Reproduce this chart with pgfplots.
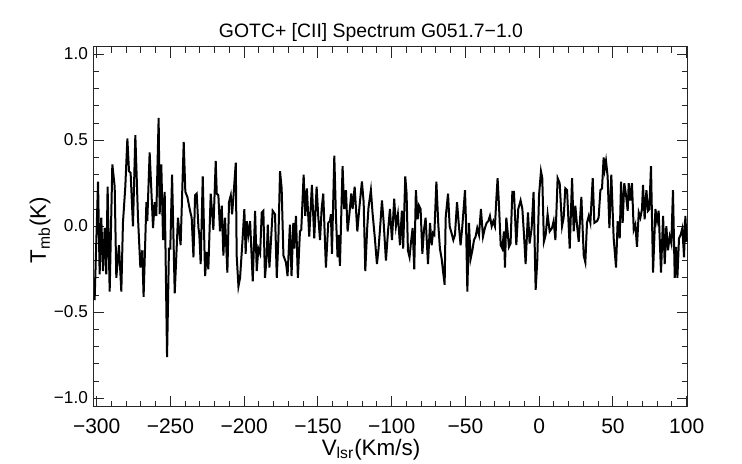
\documentclass[border=0pt]{standalone}
\usepackage{fontspec}
\setmainfont{Liberation Sans}
\usepackage{pgfplots}
\pgfplotsset{compat=1.18}
\begin{document}
\fontsize{9.7}{11}\selectfont
\begin{tikzpicture}
\begin{axis}[
  at={(0,0)}, anchor=south west,
  scale only axis, width=297.2pt, height=180pt,
  xmin=-302.3, xmax=100.7, ymin=-1.049, ymax=1.044,
  xtick={-300,-250,...,100},
  xticklabels={−300,−250,−200,−150,−100,−50,0,50,100},
  ytick={-1,-0.5,0,0.5,1},
  yticklabels={−1.0,−0.5,0.0,0.5,1.0},
  minor x tick num=4, minor y tick num=4,
  tick align=inside,
  major tick length=5.5pt, minor tick length=3pt,
  every tick/.style={black!85, line width=0.5pt},
  axis line style={black!85, line width=0.5pt},
  xticklabel style={anchor=base, yshift=-13.3pt, inner sep=0pt, font=\fontsize{10.5}{12}\selectfont},
  yticklabel style={anchor=mid east, xshift=-2.5pt, inner sep=0pt, font=\fontsize{8.6}{10}\selectfont},
]
\addplot[black, line width=1pt] coordinates {
(-301.4,-0.43) (-299.1,0.26) (-298.0,-0.28) (-296.9,0.05) (-295.7,-0.26) (-294.6,-0.01) (-293.5,-0.28) (-292.6,0.23)
(-291.2,-0.38) (-289.4,0.36) (-287.8,0.23) (-286.7,-0.30) (-284.9,-0.11) (-283.3,-0.38) (-282.2,0.02) (-280.6,0.23)
(-279.2,0.51) (-278.1,0.32) (-277.0,0.31) (-275.4,0.00) (-273.8,0.53) (-272.0,0.05) (-270.4,-0.24) (-269.1,-0.14)
(-268.2,-0.41) (-266.3,0.14) (-265.7,0.03) (-264.1,0.43) (-261.8,-0.01) (-260.7,0.14) (-259.6,0.06) (-258.0,0.63)
(-257.3,0.07) (-256.2,0.36) (-255.0,-0.08) (-253.9,0.20) (-252.3,-0.76) (-251.0,-0.13) (-250.1,-0.13) (-248.9,0.30)
(-247.1,-0.39) (-244.9,0.05) (-243.1,-0.11) (-241.0,0.49) (-239.9,0.20) (-238.5,0.17) (-237.4,0.12)
(-236.7,0.09) (-235.6,0.05) (-234.4,-0.18) (-233.3,0.18) (-232.2,0.19) (-231.0,-0.01) (-230.4,-0.05) (-229.5,-0.22)
(-228.1,0.29) (-226.5,-0.29) (-225.4,-0.15) (-224.3,-0.25) (-222.7,0.19) (-220.9,-0.02) (-219.3,0.38) (-218.6,0.19)
(-217.5,0.18) (-216.4,-0.03) (-215.2,0.12) (-214.1,-0.17) (-213.0,0.05) (-211.4,-0.27) (-210.3,0.14) (-209.1,0.18)
(-208.2,0.07) (-207.3,0.17) (-205.7,0.37) (-205.1,-0.17) (-203.9,-0.35) (-202.8,-0.30) (-201.2,-0.09) (-199.9,0.10)
(-199.0,-0.16) (-198.3,0.03) (-197.2,-0.05) (-196.0,0.03) (-194.2,-0.32) (-192.6,0.09) (-191.5,-0.26) (-190.4,-0.13)
(-189.2,-0.16) (-188.1,0.08) (-187.0,0.09) (-185.9,-0.30) (-184.7,-0.17) (-184.0,0.01) (-182.9,-0.24) (-181.8,-0.08)
(-180.7,0.09) (-179.1,0.07) (-177.9,-0.30) (-176.8,-0.07) (-175.7,0.32) (-174.6,0.22) (-173.4,-0.17)
(-171.7,-0.21) (-170.6,-0.29) (-169.0,0.01) (-167.9,-0.29) (-166.7,0.02) (-166.1,-0.13) (-164.9,0.06) (-163.6,-0.30)
(-162.2,-0.03) (-161.3,-0.02) (-159.7,0.30) (-158.6,0.06) (-157.5,0.22) (-155.9,-0.06) (-154.1,0.24) (-152.5,-0.07)
(-150.9,0.23) (-149.8,0.06) (-148.6,-0.08) (-147.5,0.10) (-146.4,0.19) (-144.6,-0.24) (-143.0,0.02) (-141.9,0.03)
(-141.2,0.07) (-140.5,-0.16) (-138.9,0.41) (-137.8,0.06) (-136.7,-0.18) (-136.0,-0.05) (-135.1,-0.23) (-133.3,0.35)
(-132.2,0.10) (-131.0,0.21) (-129.9,-0.03) (-128.8,0.06) (-127.4,0.19) (-126.5,0.10) (-125.1,0.23) (-124.2,0.10)
(-123.3,-0.03) (-122.0,0.10) (-120.2,0.26) (-119.0,0.14) (-117.9,-0.26) (-116.6,-0.01) (-115.7,0.11) (-114.1,0.21)
(-113.0,0.08) (-111.4,-0.07) (-110.0,-0.22) (-108.9,-0.13) (-107.7,0.01) (-106.6,0.15) (-105.5,0.03) (-103.9,-0.20)
(-102.5,-0.03) (-101.2,0.10) (-99.8,-0.08) (-98.3,0.16) (-97.1,0.00) (-95.8,0.07) (-94.4,-0.11) (-93.1,0.09)
(-92.2,-0.13) (-90.8,0.29) (-89.9,0.19) (-89.0,-0.14) (-87.9,-0.18) (-87.0,-0.10) (-85.8,-0.01) (-84.7,-0.25)
(-83.6,0.21) (-82.4,0.04)
(-81.5,0.12) (-80.4,0.10) (-79.2,-0.16) (-78.1,-0.02) (-77.0,0.05) (-75.4,-0.22) (-74.0,0.02) (-72.9,-0.11)
(-72.0,-0.04) (-71.1,-0.05) (-69.7,0.26) (-68.4,0.01) (-67.3,-0.13) (-66.1,-0.19) (-65.2,-0.26) (-64.1,-0.34)
(-63.4,0.05) (-61.8,0.19) (-60.7,0.00) (-59.4,-0.04) (-58.2,-0.08) (-57.1,-0.05) (-55.7,0.14) (-54.4,0.00)
(-53.3,-0.11) (-52.1,0.00) (-50.3,0.21) (-49.6,0.02) (-48.7,-0.38) (-47.6,0.02) (-46.5,-0.19) (-45.3,-0.14)
(-44.2,-0.08) (-43.1,-0.06) (-42.0,-0.01) (-40.8,-0.05) (-39.5,0.10) (-38.1,-0.06) (-36.8,-0.01) (-35.6,0.02)
(-34.5,0.03) (-33.4,0.06) (-32.2,0.00) (-31.1,0.03) (-30.0,0.00) (-29.1,0.15) (-28.2,0.28) (-27.3,0.13)
(-26.1,-0.11) (-25.0,-0.13) (-23.9,-0.03) (-23.2,-0.24) (-22.3,0.05) (-21.4,-0.03) (-20.5,-0.12) (-19.4,-0.10)
(-18.2,0.20) (-17.1,0.20) (-15.5,-0.11) (-14.2,0.10) (-12.6,0.15) (-11.4,0.10) (-10.3,-0.05) (-9.2,-0.22)
(-7.6,0.08) (-6.5,-0.10) (-5.1,-0.01) (-3.8,0.20) (-2.4,-0.37) (-1.3,-0.20) (-0.1,0.18) (1.2,0.32)
(2.1,0.28) (3.2,-0.09) (4.4,-0.05) (5.7,0.07) (7.1,-0.03)
(8.7,-0.01) (9.8,0.03) (11.0,-0.08) (12.5,0.28) (13.9,0.25) (15.5,0.00) (16.6,0.05) (17.7,0.22)
(18.9,0.21) (20.7,-0.13) (22.3,0.28) (23.4,-0.03) (24.5,0.12) (25.6,0.01) (26.8,-0.09) (28.6,0.17)
(30.2,-0.17) (31.3,-0.21) (32.4,0.02) (33.6,0.06) (34.7,0.02) (36.3,0.28) (37.4,0.02) (39.2,0.03)
(40.3,0.05) (41.5,0.21) (42.6,0.22) (43.7,0.40) (44.4,0.33) (45.3,0.38) (46.4,0.29) (47.6,-0.01)
(48.9,0.30) (50.5,-0.07) (52.1,-0.24) (53.2,0.03) (54.6,-0.07) (55.5,0.26) (56.6,0.02) (57.7,0.25)
(58.9,0.18) (60.0,0.09) (60.7,0.25) (61.8,0.15) (62.9,0.25) (64.1,-0.02) (65.2,0.01) (66.3,-0.12)
(67.5,0.08) (68.6,0.05) (69.7,0.10) (70.4,0.24) (71.5,0.04) (72.7,0.21) (73.8,0.09) (74.7,0.10)
(75.8,0.35) (77.2,-0.27) (78.8,0.10) (79.9,0.03) (81.0,0.09) (82.6,-0.27) (84.0,0.06) (85.1,-0.22)
(86.2,0.00) (87.3,-0.14) (88.5,-0.06) (89.6,-0.10) (90.7,0.21) (91.9,-0.30) (92.8,-0.12) (93.7,-0.30)
(94.8,-0.07) (95.9,-0.05) (97.1,-0.01) (98.2,-0.18) (99.1,0.06) (100.0,-0.09)
};
\end{axis}
\node[anchor=base, inner sep=0pt] at (138.85pt,184.6pt) {GOTC+ [CII] Spectrum G051.7−1.0};
\node[anchor=base, inner sep=0pt, font=\fontsize{11.2}{13}\selectfont] at (138.85pt,-24.2pt) {V\textsubscript{lsr}(Km/s)};
\node[anchor=base, rotate=90, inner sep=0pt, font=\fontsize{11.2}{13}\selectfont] at (-23.65pt,88.35pt) {T\textsubscript{mb}(K)};
\pgfresetboundingbox
\path[use as bounding box] (-46.65pt,-28.65pt) rectangle (324.35pt,203.35pt);
\end{tikzpicture}
\end{document}
